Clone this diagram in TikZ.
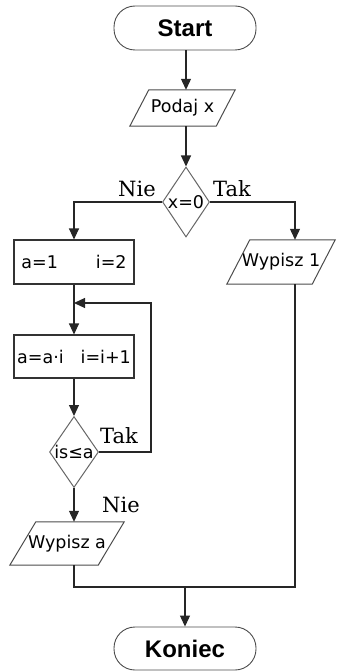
\documentclass[tikz,border=0pt]{standalone}
\usepackage{fontspec}
\setmainfont{DejaVu Sans}
\newfontfamily\termfont{Liberation Sans}
\newfontfamily\labfont{DejaVu Serif}
\usetikzlibrary{shapes.geometric,arrows.meta}
\begin{document}
\begin{tikzpicture}[x=1pt,y=-1pt,
  line/.style={draw=black!85, line width=1.1pt},
  arr/.style={line, -{Triangle[length=11pt,width=10pt]}},
  term/.style={draw=black!70, line width=0.9pt, rounded corners=21pt, minimum width=142pt, minimum height=44pt, inner sep=0pt, font=\termfont\fontsize{24}{26}\selectfont\bfseries},
  proc/.style={draw=black!80, line width=1.1pt, minimum width=120pt, minimum height=44pt, inner sep=0pt, font=\fontsize{17.5}{20}\selectfont},
  io/.style={rectangle, inner sep=0pt, font=\fontsize{17.5}{20}\selectfont},
  ioline/.style={draw=black!70, line width=1pt, line join=miter},
  dec/.style={diamond, draw=black!60, line width=1pt, inner sep=0pt, font=\fontsize{17.5}{20}\selectfont},
  lab/.style={font=\labfont\fontsize{21}{23}\selectfont, inner sep=0pt}
]
\useasboundingbox (0,0) rectangle (337,671);

\node[term] (start) at (185,28) {Start};
\node[io, minimum width=105pt, minimum height=36pt] (podaj) at (182.5,108) {Podaj x};
\node[dec, minimum width=47pt, minimum height=70pt] (dx) at (186,202) {\makebox[0pt]{x=0}};
\node[proc] (a1) at (74,262) {a=1\hspace{38pt}i=2};
\node[io, minimum width=108pt, minimum height=44pt] (w1) at (281,262) {Wypisz 1};
\node[proc, minimum height=43pt] (a2) at (74,356.5) {a=a·i\hspace{17pt}i=i+1};
\node[dec, minimum width=49pt, minimum height=71pt] (d2) at (74,452) {\makebox[0pt]{is≤a}};
\node[io, minimum width=114pt, minimum height=43pt] (wa) at (67,543.5) {Wypisz a};
\node[term, minimum height=43pt] (koniec) at (185,648.5) {Koniec};

\draw[ioline] (podaj.south west) -- ([xshift=-19pt]podaj.south east) -- (podaj.north east) -- ([xshift=19pt]podaj.north west) -- cycle;
\draw[ioline] (w1.south west) -- ([xshift=-23pt]w1.south east) -- (w1.north east) -- ([xshift=23pt]w1.north west) -- cycle;
\draw[ioline] (wa.south west) -- ([xshift=-26pt]wa.south east) -- (wa.north east) -- ([xshift=26pt]wa.north west) -- cycle;

\node[lab] (nie1) at (137,189) {Nie};
\node[lab] (tak1) at (232,189) {Tak};
\node[lab] (tak2) at (119,436) {Tak};
\node[lab] (nie2) at (121,505) {Nie};

\coordinate (rc) at (295,0);
\coordinate (lp) at (151,303);
\coordinate (mg) at (185,587);

\draw[arr] (start.south -| dx) -- (podaj.north -| dx);
\draw[arr] (podaj.south -| dx) -- (dx.north);
\draw[arr] (dx.west) -| (a1.north -| d2);
\draw[arr] (dx.east) -| (rc |- w1.north);
\draw[arr] (a1.south -| d2) -- (a2.north -| d2);
\draw[arr] (d2.east) -| (lp) -- (lp -| d2);
\draw[arr] (a2.south -| d2) -- (d2.north);
\draw[arr] (d2.south) -- (wa.north -| d2);
\draw[line] (wa.south -| d2) |- (rc |- mg) -- (rc |- w1.south);
\draw[arr] (mg) -- (koniec.north);
\end{tikzpicture}
\end{document}
